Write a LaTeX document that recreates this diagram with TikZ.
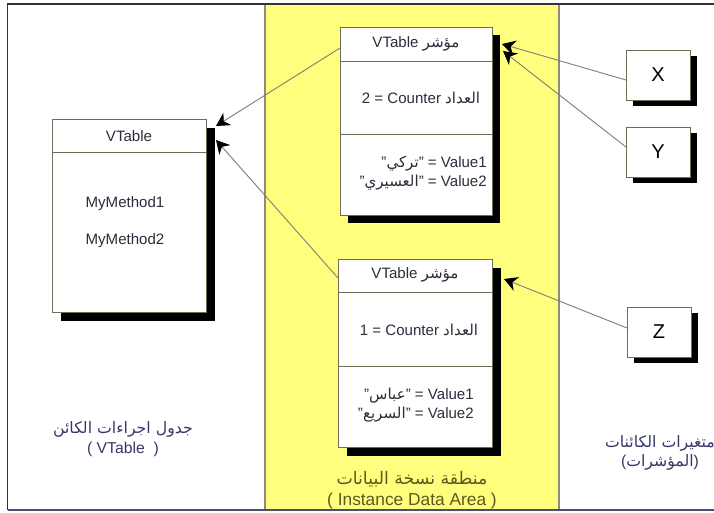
\documentclass[tikz,border=0pt]{standalone}
\usepackage{fontspec}
\setmainfont{Liberation Sans}
\newfontfamily\arabicfont[Script=Arabic,Scale=1.0]{DejaVu Sans}
\TeXXeTstate=1
\usetikzlibrary{arrows.meta,calc}
\definecolor{bandyellow}{RGB}{255,255,125}
\definecolor{bandedge}{RGB}{140,140,120}
\definecolor{boxedge}{RGB}{110,110,90}
\definecolor{boxtext}{RGB}{45,45,60}
\definecolor{labeltext}{RGB}{55,55,105}
\definecolor{midtext}{RGB}{90,90,30}
\definecolor{linkcol}{RGB}{130,130,120}
\newcommand{\ar}[1]{{\arabicfont #1}}
\tikzset{
  boxshape/.style={draw=boxedge, line width=0.6pt, fill=white, inner sep=0pt},
  shadowshape/.style={fill=black, draw=none, inner sep=0pt},
  boxtxt/.style={text=boxtext, font=\fontsize{11.3}{13}\selectfont, inner sep=0pt},
  labeltxt/.style={text=labeltext, font=\fontsize{11.8}{14.5}\selectfont, align=center, inner sep=0pt},
  midlabel/.style={text=midtext, font=\fontsize{13}{16}\selectfont, align=center, inner sep=0pt},
  letterbox/.style={boxshape, minimum width=48pt, minimum height=37.5pt, font=\fontsize{15}{17}\selectfont, text=black},
  divider/.style={draw=boxedge, line width=0.6pt},
  link/.style={draw=linkcol, line width=0.7pt, -{Stealth[length=10pt,width=11pt,color=black]}}
}
\begin{document}
\begin{tikzpicture}[x=0.75pt,y=-0.75pt]
\useasboundingbox (0,0) rectangle (714,512);
% background
\fill[white] (0,0) rectangle (714,512);
\fill[bandyellow] (265,4) rectangle (559,509);
\draw[bandedge, line width=0.8pt] (265,4) -- (265,509);
\draw[bandedge, line width=0.8pt] (559,4) -- (559,509);
% frame
\draw[black!80, line width=1.4pt] (714,4) -- (7.5,4) -- (7.5,510);
\draw[black!60!blue!40!gray, line width=1.2pt] (7.5,510) -- (714,510);

% ---- left VTable box ----
\node[shadowshape, minimum width=115.5pt, minimum height=144.75pt] (vts) at (138,224.5) {};
\node[boxshape, minimum width=115.5pt, minimum height=144.75pt] (vt) at (129,215.5) {};
\draw[divider] (52,152) -- (206,152);
\node[boxtxt] (vth) at (129,136) {VTable};
\node[boxtxt] (vm1) at (125,204) {MyMethod1};
\node[boxtxt] (vm2) at (125,241) {MyMethod2};

% ---- top instance box ----
\node[shadowshape, minimum width=114pt, minimum height=141pt] (tops) at (424,129) {};
\node[boxshape, minimum width=114pt, minimum height=141pt] (top) at (416,121) {};
\draw[divider] (340,61) -- (492,61);
\draw[divider] (340,134) -- (492,134);
\node[boxtxt] (toph) at (416,44) {\beginR\ar{مؤشر} VTable\endR};
\node[boxtxt] (topc) at (421,98) {\beginR\ar{العداد} Counter = 2\endR};
\node[boxtxt, anchor=east] (topv1) at (487,164) {\beginR Value1 = "\ar{تركي}"\endR};
\node[boxtxt, anchor=east] (topv2) at (487,183) {\beginR Value2 = "\ar{العسيري}"\endR};

% ---- bottom instance box ----
\node[shadowshape, minimum width=115.5pt, minimum height=141pt] (bots) at (424,362) {};
\node[boxshape, minimum width=115.5pt, minimum height=141pt] (bot) at (415,353) {};
\draw[divider] (338,292) -- (492,292);
\draw[divider] (338,366) -- (492,366);
\node[boxtxt] (both) at (415,275) {\beginR\ar{مؤشر} VTable\endR};
\node[boxtxt] (botc) at (419,330) {\beginR\ar{العداد} Counter = 1\endR};
\node[boxtxt, anchor=east] (botv1) at (474,396) {\beginR Value1 = "\ar{عباس}"\endR};
\node[boxtxt, anchor=east] (botv2) at (474,415) {\beginR Value2 = "\ar{السريع}"\endR};

% ---- X, Y, Z ----
\node[shadowshape, minimum width=48pt, minimum height=37.5pt] (xs) at (665,81) {};
\node[letterbox] (X) at (658,75) {X};
\node[shadowshape, minimum width=48pt, minimum height=37.5pt] (ys) at (665,158) {};
\node[letterbox] (Y) at (658,152) {Y};
\node[shadowshape, minimum width=48pt, minimum height=37.5pt] (zs) at (666,338) {};
\node[letterbox] (Z) at (659,332) {Z};

% ---- connector ends ----
\coordinate (tinA) at (502,44);
\coordinate (tinB) at (503,51);
\coordinate (binA) at (504,279);
\coordinate (vtinA) at (216,126);
\coordinate (vtinB) at (216,140);
\coordinate (xout) at (626,80);
\coordinate (yout) at (626,147);
\coordinate (zout) at (627,328);
\coordinate (topout) at (340,48);
\coordinate (botout) at (338,278);

\draw[link] (xout) -- (tinA);
\draw[link] (yout) -- (tinB);
\draw[link] (zout) -- (binA);
\draw[link] (topout) -- (vtinA);
\draw[link] (botout) -- (vtinB);

% ---- labels ----
\node[labeltxt] (lvt) at (123,439) {\beginR\ar{جدول اجراءات الكائن}\endR\\( VTable\ \ )};
\node[midlabel] (lmid) at (412,490) {\beginR\ar{منطقة نسخة البيانات}\endR\\( Instance Data Area )};
\node[labeltxt] (lvar) at (660,453) {\beginR\ar{متغيرات الكائنات}\endR\\\beginR)\ar{المؤشرات}(\endR};
\end{tikzpicture}
\end{document}
